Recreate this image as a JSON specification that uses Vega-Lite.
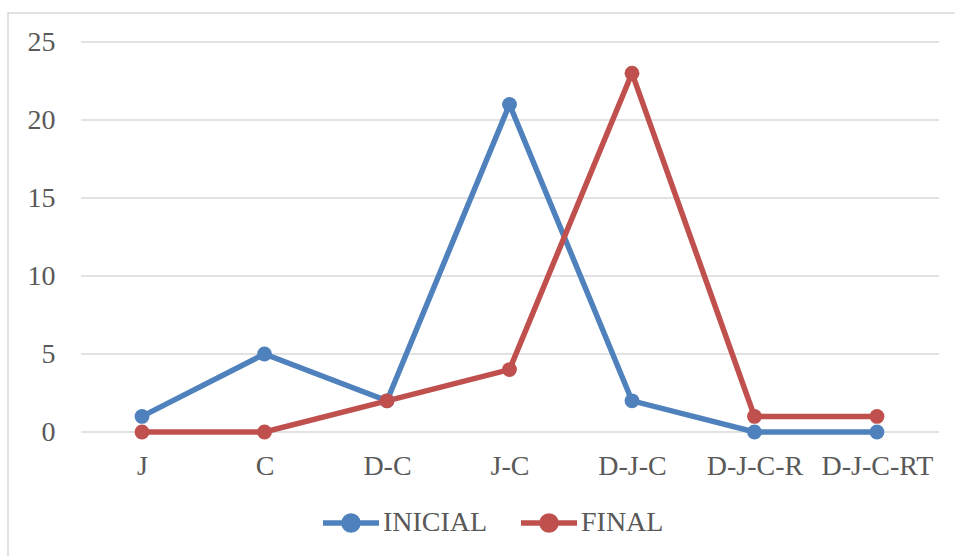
{
  "$schema": "https://vega.github.io/schema/vega-lite/v6.json",
  "width": 950,
  "height": 546,
  "autosize": "none",
  "padding": {"left": 8, "top": 13, "right": 0, "bottom": 0},
  "background": "white",
  "config": {
    "font": "Times New Roman, Liberation Serif, DejaVu Serif, serif",
    "view": {"stroke": "#d9d9d9", "strokeWidth": 1.5},
    "axis": {"labelFont": "Times New Roman, Liberation Serif, DejaVu Serif, serif"},
    "legend": {"labelFont": "Times New Roman, Liberation Serif, DejaVu Serif, serif"}
  },
  "datasets": {
    "series": [
      {"categoria": "J", "serie": "INICIAL", "valor": 1},
      {"categoria": "C", "serie": "INICIAL", "valor": 5},
      {"categoria": "D-C", "serie": "INICIAL", "valor": 2},
      {"categoria": "J-C", "serie": "INICIAL", "valor": 21},
      {"categoria": "D-J-C", "serie": "INICIAL", "valor": 2},
      {"categoria": "D-J-C-R", "serie": "INICIAL", "valor": 0},
      {"categoria": "D-J-C-RT", "serie": "INICIAL", "valor": 0},
      {"categoria": "J", "serie": "FINAL", "valor": 0},
      {"categoria": "C", "serie": "FINAL", "valor": 0},
      {"categoria": "D-C", "serie": "FINAL", "valor": 2},
      {"categoria": "J-C", "serie": "FINAL", "valor": 4},
      {"categoria": "D-J-C", "serie": "FINAL", "valor": 23},
      {"categoria": "D-J-C-R", "serie": "FINAL", "valor": 1},
      {"categoria": "D-J-C-RT", "serie": "FINAL", "valor": 1}
    ],
    "grid": [{"v": 0}, {"v": 5}, {"v": 10}, {"v": 15}, {"v": 20}, {"v": 25}]
  },
  "layer": [
    {
      "data": {"name": "grid"},
      "mark": {"type": "rule", "color": "#d9d9d9", "strokeWidth": 1.5},
      "encoding": {
        "x": {"datum": 0, "type": "quantitative", "scale": {"domain": [0, 1], "range": [73, 931]}, "axis": null},
        "x2": {"datum": 1},
        "y": {
          "field": "v",
          "type": "quantitative",
          "scale": {"domain": [0, 25], "range": [419, 29], "nice": false},
          "axis": {
            "title": null,
            "values": [0, 5, 10, 15, 20, 25],
            "offset": -47,
            "domain": false,
            "ticks": false,
            "grid": false,
            "labelFontSize": 28,
            "labelColor": "#595959",
            "labelPadding": 0
          }
        }
      }
    },
    {
      "data": {"name": "series"},
      "mark": {"type": "line", "strokeWidth": 5.5, "point": {"filled": true, "size": 220, "opacity": 1}},
      "encoding": {
        "x": {
          "field": "categoria",
          "type": "nominal",
          "sort": ["J", "C", "D-C", "J-C", "D-J-C", "D-J-C-R", "D-J-C-RT"],
          "scale": {"type": "point", "range": [134, 869], "padding": 0},
          "axis": {
            "title": null,
            "orient": "bottom",
            "offset": -127,
            "domain": false,
            "ticks": false,
            "labelAngle": 0,
            "labelFontSize": 28,
            "labelColor": "#595959",
            "labelPadding": 20
          }
        },
        "y": {
          "field": "valor",
          "type": "quantitative",
          "scale": {"domain": [0, 25], "range": [419, 29], "nice": false},
          "axis": {
            "title": null,
            "values": [0, 5, 10, 15, 20, 25],
            "offset": -47,
            "domain": false,
            "ticks": false,
            "grid": false,
            "labelFontSize": 28,
            "labelColor": "#595959",
            "labelPadding": 0
          }
        },
        "color": {
          "field": "serie",
          "type": "nominal",
          "sort": ["INICIAL", "FINAL"],
          "scale": {"domain": ["INICIAL", "FINAL"], "range": ["#4f81bd", "#c0504d"]},
          "legend": {
            "title": null,
            "orient": "none",
            "direction": "horizontal",
            "legendX": 312,
            "legendY": 479,
            "symbolType": "M-1,0L1,0M-0.25,0A0.25,0.25 0 1,0 0.25,0A0.25,0.25 0 1,0 -0.25,0Z",
            "symbolSize": 3136,
            "symbolStrokeWidth": 5.5,
            "labelFontSize": 28,
            "labelColor": "#595959",
            "labelOffset": 1,
            "columnPadding": 22,
            "labelLimit": 400,
            "encode": {
              "symbols": {
                "update": {
                  "fill": {"field": "value", "scale": "color"},
                  "stroke": {"field": "value", "scale": "color"},
                  "opacity": {"value": 1}
                }
              }
            }
          }
        }
      }
    }
  ],
  "resolve": {"scale": {"x": "independent"}}
}
